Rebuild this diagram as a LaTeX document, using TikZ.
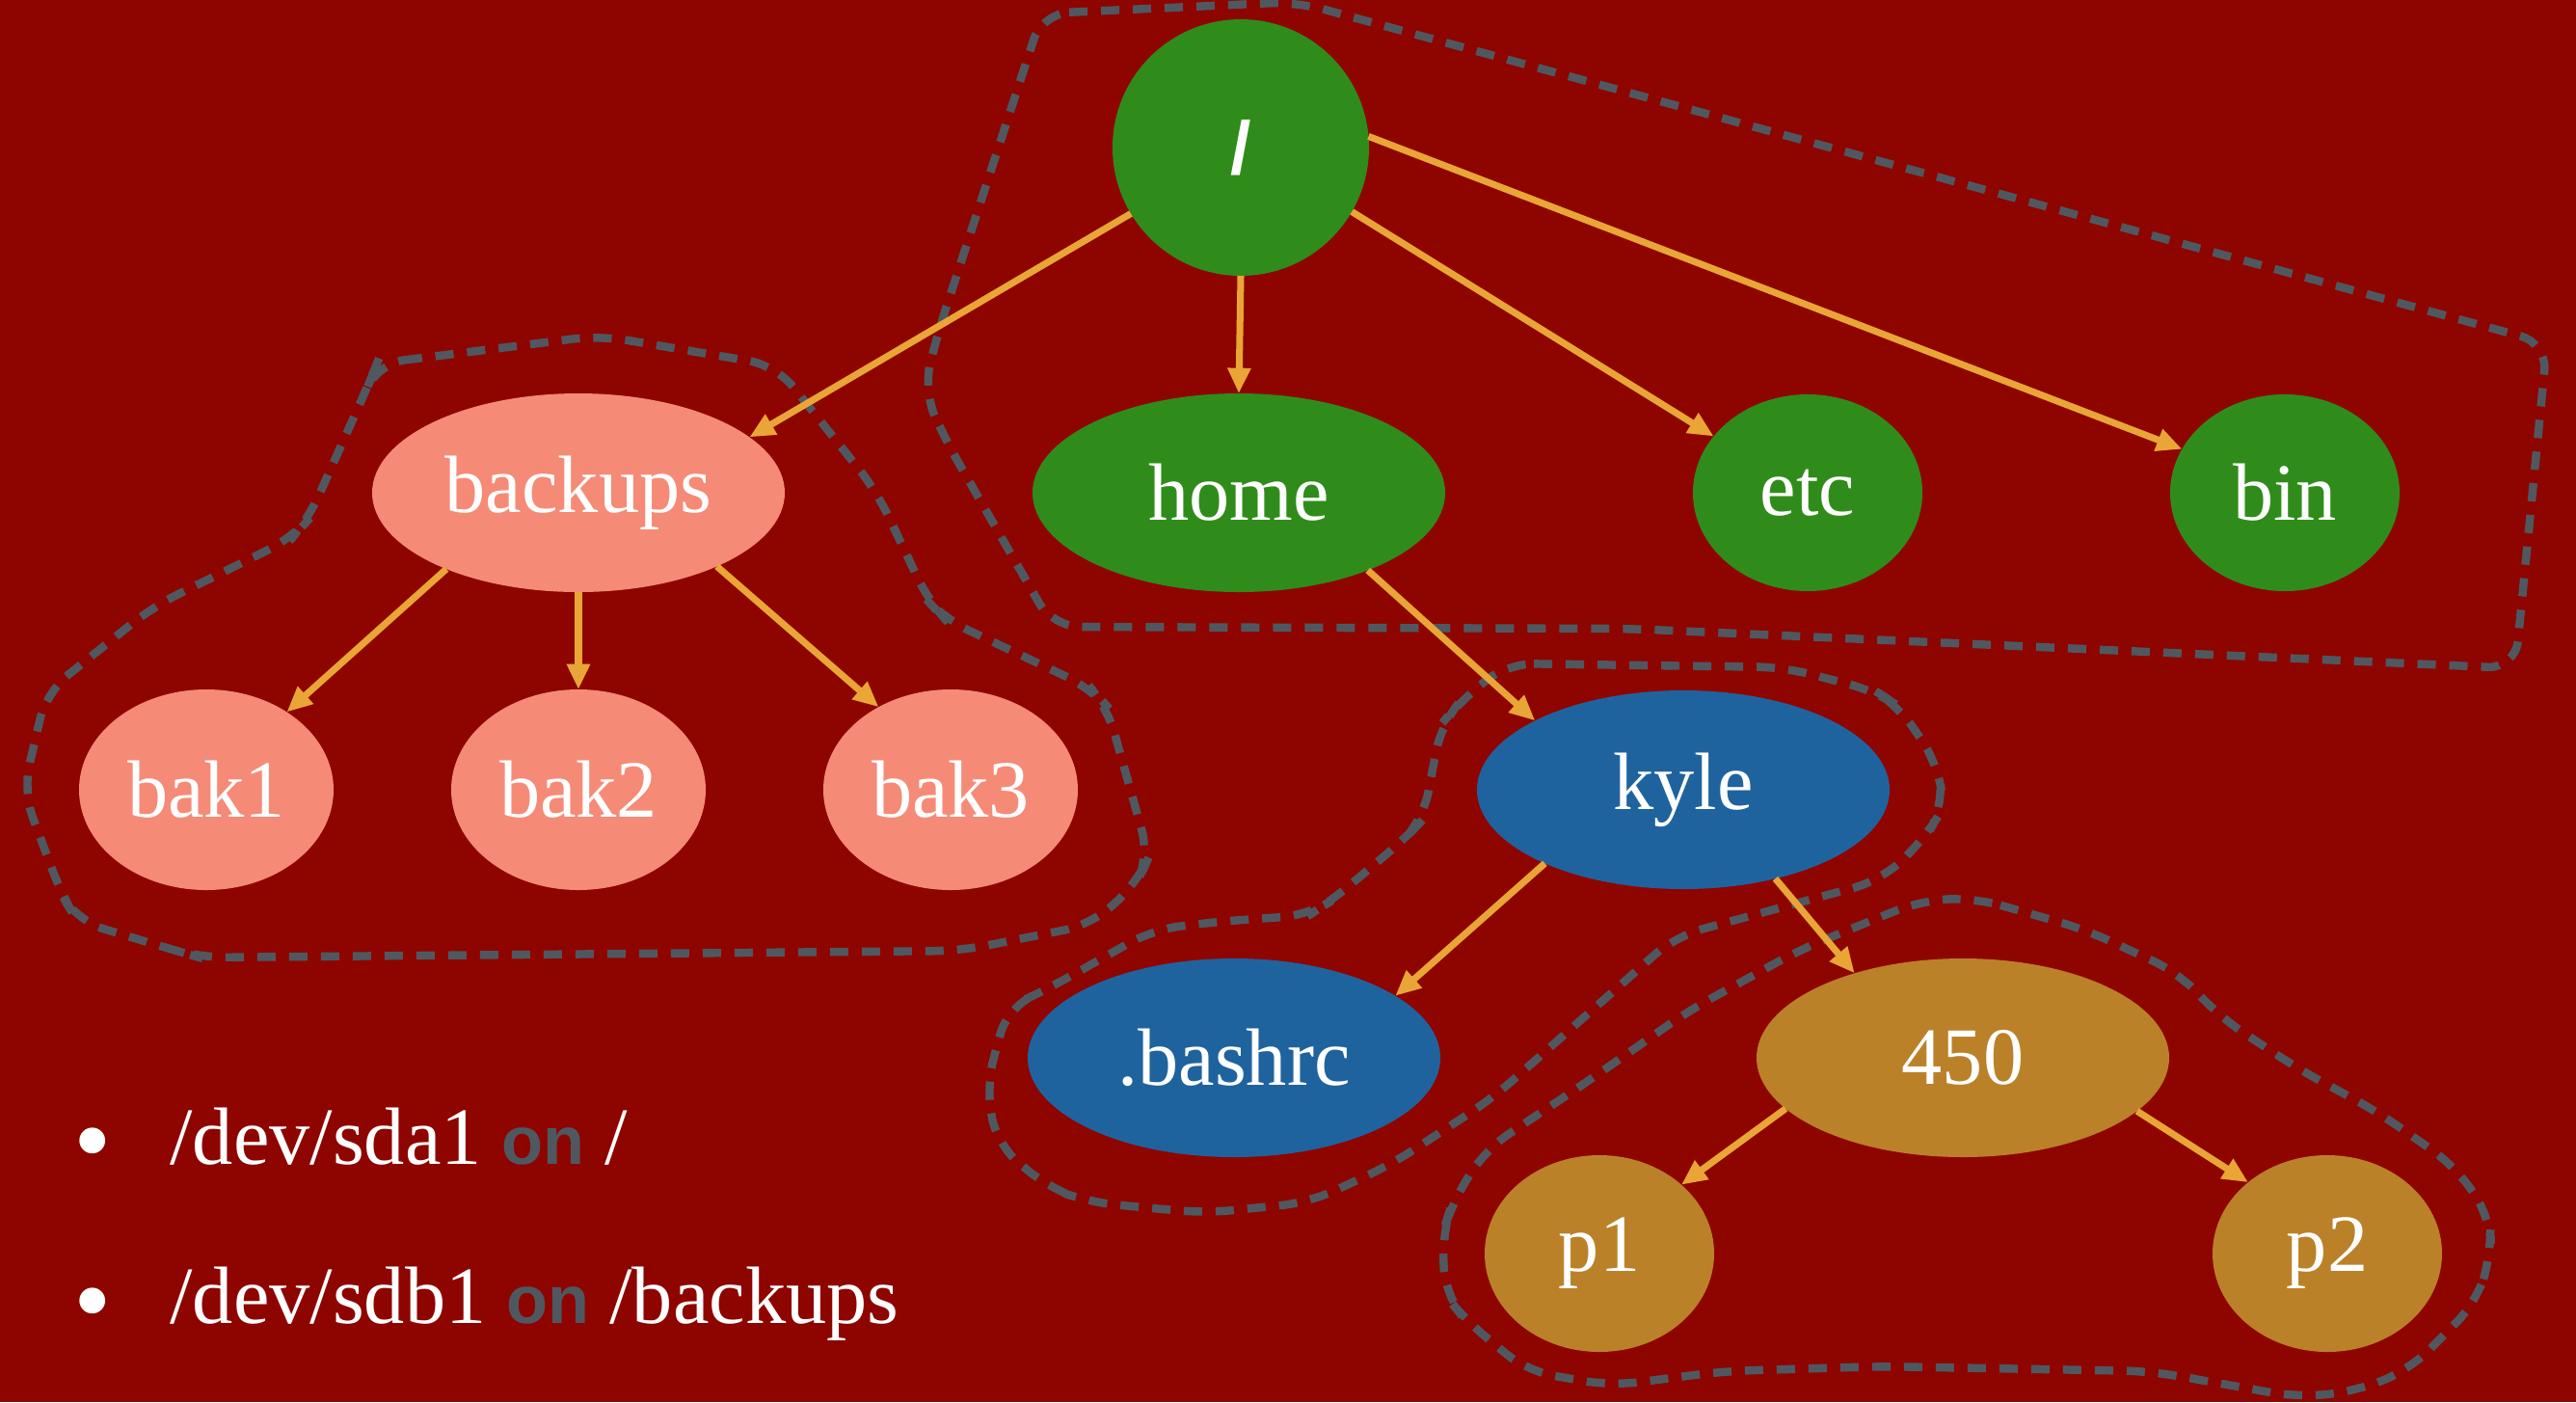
\documentclass[tikz,border=0pt]{standalone}
\usepackage{fontspec}
\setmainfont{Liberation Serif}
\setsansfont{Liberation Sans}
\usetikzlibrary{arrows.meta,shapes.geometric}

\definecolor{bgred}{RGB}{142,5,0}
\definecolor{rootgreen}{RGB}{48,140,26}
\definecolor{bakpink}{RGB}{245,139,119}
\definecolor{homeblue}{RGB}{31,99,158}
\definecolor{projgold}{RGB}{187,129,41}
\definecolor{edgeorange}{RGB}{233,165,53}
\definecolor{mountgray}{RGB}{79,88,96}

\newcommand{\onword}{{\sffamily\bfseries\fontsize{20}{24}\selectfont\color{mountgray}on}}

\tikzset{
  dir/.style={ellipse, inner sep=0pt, outer sep=0pt, text=white,
    font=\fontsize{24}{28}\selectfont},
  wide/.style={dir, minimum width=4.28cm, minimum height=2.06cm},
  narrow/.style={dir, minimum width=2.38cm, minimum height=2.04cm},
  bak/.style={dir, fill=bakpink, minimum width=2.64cm, minimum height=2.08cm},
  mount/.style={draw=mountgray, line width=2.4pt,
    dash pattern=on 0.19cm off 0.14cm, rounded corners=8pt},
  link/.style={->, draw=edgeorange, line width=2pt},
  note/.style={anchor=base west, text=white, font=\fontsize{24}{28}\selectfont},
  dot/.style={anchor=base, text=white, font=\fontsize{32}{36}\selectfont}
}

\begin{document}
\begin{tikzpicture}[>={Triangle[length=7.5pt,width=6.5pt]}]
                \fill[bgred] (0,0) rectangle (26.72,-14.54);
                \useasboundingbox (0,0) rectangle (26.72,-14.54);

                % mount areas
                \draw[mount] (10.81,-0.14) -- (13.45,-0.02) -- (26.42,-3.56) -- (26.09,-6.93)
                    -- (16.90,-6.52) -- (10.92,-6.50) -- (9.80,-4.55) -- (9.58,-4.05)
                    -- (9.72,-3.48) -- cycle;
                \draw[mount] (3.91,-3.77) -- (6.22,-3.48) -- (8.05,-3.79) -- (9.09,-5.09)
                    -- (9.64,-6.25) -- (9.80,-6.42) -- (11.32,-7.14) -- (11.48,-7.32)
                    -- (11.92,-8.88) -- (11.80,-9.15) -- (11.32,-9.59) -- (9.96,-9.86)
                    -- (2.07,-9.93) -- (1.83,-9.86) -- (0.80,-9.55) -- (0.64,-9.28)
                    -- (0.24,-8.21) -- (0.48,-7.18) -- (1.59,-6.29) -- (3.03,-5.58)
                    -- (3.19,-5.40) -- (3.83,-3.97) -- cycle;
                \draw[mount] (15.63,-6.88) -- (18.51,-6.92) -- (19.46,-7.17) -- (19.69,-7.32)
                    -- (20.10,-7.92) -- (20.16,-8.37) -- (19.97,-8.69) -- (19.51,-9.13)
                    -- (17.38,-9.71) -- (15.48,-11.39) -- (14.44,-12.07) -- (13.58,-12.47)
                    -- (12.50,-12.58) -- (11.31,-12.47) -- (10.88,-12.32) -- (10.34,-11.87)
                    -- (10.23,-11.26) -- (10.45,-10.45) -- (10.88,-10.25) -- (11.96,-9.64)
                    -- (12.61,-9.56) -- (13.58,-9.49) -- (13.80,-9.35) -- (14.57,-8.70)
                    -- (14.76,-8.50) -- (14.95,-7.51) -- (15.14,-7.28) -- cycle;
                \draw[mount] (20.48,-9.31) -- (21.63,-9.64) -- (22.60,-10.09) -- (23.03,-10.55)
                    -- (23.83,-11.08) -- (24.66,-11.53) -- (25.46,-12.09) -- (25.83,-12.62)
                    -- (25.84,-13.00) -- (25.69,-13.50) -- (25.00,-14.20) -- (24.43,-14.43)
                    -- (23.83,-14.49) -- (23.16,-14.37) -- (22.30,-14.22) -- (19.51,-14.17)
                    -- (17.89,-14.22) -- (16.71,-14.37) -- (15.84,-14.22) -- (15.20,-13.69)
                    -- (14.99,-13.43) -- (14.96,-12.80) -- (15.06,-12.48) -- (15.41,-11.92)
                    -- (16.46,-11.22) -- (17.52,-10.48) -- (18.67,-9.85) -- (19.92,-9.34) -- cycle;

                % directories
                \node[circle, fill=rootgreen, minimum size=2.66cm, inner sep=0pt, outer sep=0pt,
                    text=white, font=\sffamily\bfseries\fontsize{22}{26}\selectfont] (root) at (12.87,-1.53) {/};
                \node[wide, fill=bakpink] (backups) at (6.00,-5.11) {backups};
                \node[wide, fill=rootgreen] (home) at (12.85,-5.11) {home};
                \node[narrow, fill=rootgreen] (etc) at (18.75,-5.11) {etc};
                \node[narrow, fill=rootgreen] (bin) at (23.70,-5.11) {bin};
                \node[bak] (bak1) at (2.14,-8.19) {bak1};
                \node[bak] (bak2) at (6.00,-8.19) {bak2};
                \node[bak] (bak3) at (9.86,-8.19) {bak3};
                \node[wide, fill=homeblue] (kyle) at (17.46,-8.19) {kyle};
                \node[wide, fill=homeblue] (bashrc) at (12.80,-10.97) {.bashrc};
                \node[wide, fill=projgold] (proj) at (20.36,-10.97) {450};
                \node[narrow, fill=projgold] (p1) at (16.59,-13.00) {p1};
                \node[narrow, fill=projgold] (p2) at (24.14,-13.00) {p2};

                \draw[link] (root.211) to (backups.18);
                \draw[link] (root.-90) to (home.90);
                \draw[link] (root.-30) to (etc.149);
                \draw[link] (root.5) to (bin.157);
                \draw[link] (backups.210) to (bak1.44);
                \draw[link] (backups.-90) to (bak2.90);
                \draw[link] (backups.-28) to (bak3.131);
                \draw[link] (home.-31) to (kyle.155);
                \draw[link] (kyle.208) to (bashrc.21);
                \draw[link] (kyle.-44) to (proj.142);
                \draw[link] (proj.196) to (p1.40);
                \draw[link] (proj.-17) to (p2.138);

                % mounts
                \node[dot] (dot1) at (0.96,-12.20) {•};
                \node[note] (sda) at (1.64,-12.07) {/dev/sda1 \onword{} /};
                \node[dot] (dot2) at (0.96,-13.86) {•};
                \node[note] (sdb) at (1.64,-13.72) {/dev/sdb1 \onword{} /backups};
\end{tikzpicture}
\end{document}
